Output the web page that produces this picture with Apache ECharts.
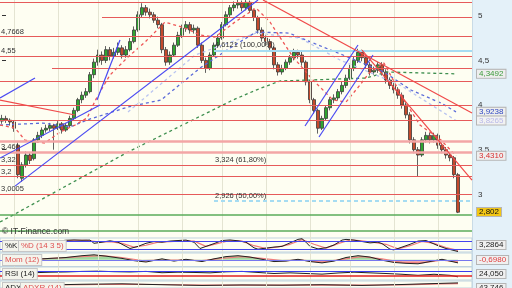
<!DOCTYPE html>
<html><head><meta charset="utf-8">
<script src="https://cdn.jsdelivr.net/npm/echarts@6/dist/echarts.min.js"></script>
<style>
html,body{margin:0;padding:0;}
body{background:linear-gradient(to right,#fefef2 0,#fefef2 472px,#c9dbe6 472px,#c9dbe6 473px,#e4f1f9 473px,#e4f1f9 512px);}
#c{width:512px;height:288px;}
</style>
</head><body><div id="c"></div><script>
// ---------- DATA ----------
const slots = 118;
const categories = Array.from({length: slots}, (_, i) => String(i + 1));
// [open, close, low, high]
const ohlc = [
[3.82,3.85,3.79,3.89],[3.85,3.83,3.80,3.88],[3.83,3.81,3.77,3.85],[3.81,3.74,3.70,3.83],
[3.55,3.22,3.18,3.58],[3.18,3.33,3.14,3.36],[3.33,3.44,3.30,3.48],[3.44,3.38,3.34,3.47],
[3.40,3.61,3.38,3.63],[3.61,3.66,3.58,3.70],[3.66,3.72,3.63,3.75],[3.72,3.74,3.69,3.78],
[3.74,3.77,3.71,3.80],[3.77,3.74,3.50,3.79],[3.74,3.79,3.72,3.82],[3.79,3.72,3.68,3.81],
[3.72,3.77,3.70,3.80],[3.77,3.85,3.75,3.88],[3.85,3.94,3.83,3.97],[3.94,4.06,3.92,4.08],
[4.06,4.11,4.02,4.15],[4.11,4.15,4.08,4.19],[4.15,4.34,4.13,4.37],[4.34,4.48,4.30,4.52],
[4.48,4.56,4.44,4.62],[4.56,4.50,4.45,4.60],[4.50,4.62,4.47,4.66],[4.62,4.55,4.50,4.65],
[4.55,4.59,4.52,4.64],[4.59,4.64,4.56,4.70],[4.64,4.56,4.52,4.67],[4.56,4.62,4.53,4.66],
[4.62,4.71,4.60,4.75],[4.71,4.84,4.69,4.88],[4.84,5.01,4.82,5.05],[5.01,5.09,4.98,5.14],
[5.09,5.04,5.00,5.12],[5.04,5.01,4.97,5.08],[5.01,4.95,4.92,5.04],[4.95,4.90,4.86,4.99],
[4.90,4.62,4.58,4.92],[4.62,4.48,4.44,4.65],[4.48,4.56,4.45,4.60],[4.56,4.67,4.54,4.70],
[4.67,4.78,4.65,4.82],[4.78,4.86,4.75,4.90],[4.86,4.90,4.82,4.94],[4.90,4.84,4.80,4.93],
[4.84,4.86,4.80,4.90],[4.86,4.67,4.64,4.88],[4.67,4.50,4.47,4.70],[4.50,4.41,4.36,4.53],
[4.41,4.56,4.39,4.59],[4.56,4.67,4.54,4.70],[4.67,4.75,4.64,4.79],[4.75,4.90,4.73,4.93],
[4.90,5.01,4.88,5.05],[5.01,5.09,4.98,5.12],[5.09,5.12,5.05,5.16],[5.12,5.14,5.08,5.18],
[5.14,5.09,5.05,5.17],[5.09,5.15,5.06,5.19],[5.15,5.06,5.03,5.17],[5.06,4.98,4.94,5.08],
[4.98,4.84,4.80,5.00],[4.84,4.75,4.71,4.87],[4.75,4.71,4.66,4.78],[4.71,4.64,4.60,4.74],
[4.64,4.45,4.40,4.66],[4.45,4.37,4.33,4.48],[4.37,4.41,4.34,4.45],[4.41,4.48,4.39,4.51],
[4.48,4.53,4.45,4.56],[4.53,4.59,4.50,4.63],[4.59,4.56,4.52,4.62],[4.56,4.48,4.44,4.60],
[4.48,4.26,4.22,4.50],[4.26,4.06,4.02,4.28],[4.06,3.94,3.90,4.08],[3.94,3.74,3.68,3.96],
[3.74,3.85,3.72,3.88],[3.85,3.97,3.83,4.00],[3.97,4.06,3.94,4.09],[4.06,4.08,4.02,4.12],
[4.08,4.15,4.05,4.18],[4.15,4.22,4.12,4.26],[4.22,4.30,4.19,4.34],[4.30,4.41,4.28,4.45],
[4.41,4.50,4.38,4.54],[4.50,4.59,4.47,4.63],[4.59,4.53,4.49,4.62],[4.53,4.45,4.41,4.56],
[4.45,4.37,4.33,4.48],[4.37,4.39,4.34,4.43],[4.39,4.45,4.36,4.48],[4.45,4.37,4.33,4.48],
[4.37,4.28,4.24,4.40],[4.28,4.22,4.18,4.31],[4.22,4.17,4.13,4.25],[4.17,4.11,4.07,4.20],
[4.11,4.00,3.96,4.14],[4.00,3.89,3.85,4.03],[3.89,3.61,3.57,3.92],[3.61,3.50,3.46,3.64],
[3.50,3.44,3.20,3.53],[3.44,3.61,3.42,3.64],[3.61,3.66,3.58,3.70],[3.66,3.61,3.57,3.69],
[3.61,3.66,3.58,3.69],[3.66,3.55,3.51,3.68],[3.55,3.50,3.46,3.58],[3.50,3.44,3.40,3.53],
[3.44,3.41,3.37,3.47],[3.41,3.22,3.18,3.43],[3.22,2.80,2.79,3.24]
];
// moving averages [slot index, value]
const maRed = [[-0.5,3.776],[3.25,3.742],[5.75,3.608],[10.75,3.574],[14.5,3.698],[18.25,3.776],[21.25,3.854],[23.75,4.09],[27,4.336],[31.5,4.538],[35.75,4.705],[40.75,4.929],[45.75,4.862],[49.5,4.784],[53.25,4.761],[58.25,4.929],[63.5,5.086],[67,4.929],[72.75,4.538],[77.75,4.28],[82.75,4.056],[86,4.034],[89.5,4.224],[91.75,4.358],[95.5,4.47],[100.5,4.056],[104.5,3.776],[109.75,3.608],[113.5,3.431]];
const maBlue = [[-0.5,3.776],[10.25,3.798],[17,3.754],[21.25,3.832],[31.5,3.978],[39.75,4.056],[49.5,4.414],[57,4.638],[63.5,4.817],[71.75,4.806],[80.25,4.65],[85.25,4.56],[95.5,4.37],[102.25,4.168],[109.75,4.022],[113.5,3.9238]];
const maLight = [[31.5,3.922],[48.25,4.56],[63.5,4.806],[74.5,4.75],[84.5,4.504],[99.5,4.224],[113.5,3.8265]];
const maGreen = [[-0.5,2.69],[2.75,2.768],[31.5,3.474],[57.75,4.056],[63.5,4.168],[69.5,4.269],[91,4.302],[96.25,4.37],[113.5,4.3492]];
// trend lines [[x0,y0],[x1,y1]]
const trendBlue = [
  [[-0.5,4.078],[8.25,4.302]],
  [[-0.5,3.406],[24.5,4.0]],
  [[23.75,4.056],[29.5,4.728]],
  [[3.25,3.092],[64,5.176]],
  [[75.75,3.765],[89,4.672]],
  [[79.25,3.642],[92.75,4.56]]
];
const trendRed = [
  [[-0.5,4.056],[18.25,3.888]],
  [[65.25,5.176],[117.5,3.91]],
  [[90,4.616],[117.5,3.16]]
];
// horizontal levels
const redLevels = [5.155, 4.98, 4.7668, 4.55, 4.41, 4.261, 4.0, 3.832, 3.324, 3.2, 3.0005];
const redLevelStart = [-0.5, 25, -0.5, -0.5, 12.5, -0.5, -0.5, -0.5, -0.5, -0.5, -0.5];
const redLevelText = ['5,155', '', '4,7668', '4,55', '', '', '', '', '3,32', '3,2', '3,0005'];
const pinkLevels = [3.589, 3.47];
const pinkLevelText = ['', '3,461'];
const fibLevels = [4.6121, 3.324, 2.926];
const fibText = ['4,6121 (100,00%)', '3,324 (61,80%)', '2,926 (50,00%)'];
const fibStart = 53;
const greenLevels = [2.768, 2.592];
const monthStarts = [3, 14, 24, 34, 45, 55, 66, 77, 87, 98, 109];
const yTicks = [3, 3.5, 4, 4.5, 5];
const lastValues = [4.3492, 3.9238, 3.8265, 3.4310, 2.802];
const lastValueText = ['4,3492', '3,9238', '3,8265', '3,4310', '2,802'];
// indicators
const stochK = [[0,70],[2,78],[4,65],[6,72],[8,80],[10,74],[12,70],[14,78],[16,84],[18,86],[20,84],[22,85],[23,62],[25,70],[27,80],[29,70],[31,40],[32,25],[34,40],[36,62],[38,75],[40,70],[42,78],[44,82],[46,85],[48,70],[49.5,25],[51,40],[53,60],[55,82],[57,86],[59,80],[61,70],[63,30],[64,20],[66,28],[68,35],[70,40],[72,65],[74,90],[75,95],[76,70],[77,40],[79,22],[81,30],[83,50],[85,85],[86,90],[88,85],[90,75],[92,65],[94,70],[95,60],[97,20],[98,15],[100,35],[102,55],[104,78],[106,82],[107,70],[109,45],[111,25],[112,18],[114,3.2864]];
const stochD = [[0,72],[3,72],[6,70],[9,76],[12,73],[15,78],[18,84],[21,84],[24,72],[27,74],[30,62],[33,35],[36,48],[39,70],[42,74],[45,80],[48,78],[51,40],[54,62],[57,82],[60,78],[63,45],[66,25],[69,36],[72,55],[75,88],[78,55],[81,28],[84,60],[87,86],[90,80],[93,68],[96,55],[99,22],[102,45],[105,75],[108,62],[111,32],[114,12]];
const mom = [[0,0.2],[4,0.3],[8,0.1],[12,0.3],[16,0.5],[20,0.9],[23,1.1],[26,0.8],[30,0.3],[33,-0.2],[36,-0.5],[40,0.2],[43,-0.3],[46,0.1],[50,-0.4],[53,0.2],[56,0.7],[59,0.9],[62,0.6],[65,0.1],[68,-0.4],[71,-0.3],[74,0.1],[77,-0.4],[80,-0.7],[83,-0.3],[86,0.5],[89,0.9],[92,0.6],[95,-0.1],[98,-0.6],[101,-0.8],[104,-0.9],[107,-0.4],[110,0.1],[112,-0.3],[114,-0.698]];
const momSig = [[0,0.1],[5,0.25],[10,0.2],[15,0.4],[20,0.7],[25,0.9],[30,0.5],[35,-0.2],[40,-0.1],[45,-0.1],[50,-0.2],[55,0.3],[60,0.7],[65,0.3],[70,-0.2],[75,-0.1],[80,-0.5],[85,0.1],[90,0.7],[95,0.2],[100,-0.6],[105,-0.7],[110,-0.1],[114,-0.5]];
const rsi = [[0,62],[4,58],[8,56],[12,60],[16,62],[20,66],[24,68],[28,64],[32,62],[36,66],[40,56],[44,60],[48,58],[52,55],[56,63],[60,66],[64,58],[68,50],[72,55],[76,50],[80,45],[84,54],[88,60],[92,55],[96,50],[100,44],[104,36],[108,44],[112,36],[114,24.05]];
const adx = [[0,30],[10,25],[20,32],[30,36],[40,28],[50,22],[60,26],[70,24],[80,28],[90,22],[100,30],[110,40],[114,43.746]];
const adxr = [[0,28],[10,27],[20,28],[30,32],[40,30],[50,25],[60,25],[70,25],[80,26],[90,24],[100,27],[110,35],[114,38]];
const subTagText = ['3,2864', '-0,6980', '24,050', '43,746'];

// ---------- CHART ----------
const FONT = 'Liberation Sans, Arial, sans-serif';
const chart = echarts.init(document.getElementById('c'), null, {renderer: 'canvas'});
const W = 472;
const grids = [
  {left: 0, top: 0, width: W, height: 239},
  {left: 0, top: 238, width: W, height: 14},
  {left: 0, top: 253, width: W, height: 13.5},
  {left: 0, top: 267, width: W, height: 13},
  {left: 0, top: 281, width: W, height: 14}
];
const gridOpts = grids.map((g, i) => Object.assign({}, g, i === 0 ? {show: false} : {
  show: true, backgroundColor: '#fefef2', borderColor: '#bfd3df', borderWidth: 1
}));
const valX = g => ({type: 'value', gridIndex: g, min: -0.5, max: slots - 0.5, show: false});
const xAxes = [
  {type: 'category', gridIndex: 0, data: categories, boundaryGap: true, show: false},
  valX(0), valX(1), valX(2), valX(3), valX(4)
];
const yAxes = [
  {type: 'value', gridIndex: 0, min: 2.5, max: 5.176, position: 'right',
   axisLine: {show: false}, splitLine: {show: false},
   axisTick: {show: true, length: 4, lineStyle: {color: '#333'}, customValues: yTicks},
   axisLabel: {customValues: yTicks, color: '#333', fontSize: 8, fontFamily: FONT, margin: 6,
     formatter: v => String(v).replace('.', ',')}},
  {type: 'value', gridIndex: 1, min: 0, max: 100, show: false},
  {type: 'value', gridIndex: 2, min: -1.5, max: 1.5, show: false},
  {type: 'value', gridIndex: 3, min: 0, max: 100, show: false},
  {type: 'value', gridIndex: 4, min: 0, max: 60, show: false}
];
const hLine = (v, x0, x1, style, label) => [
  {coord: [x0, v], lineStyle: style, label: label || {show: false}},
  {coord: [x1, v]}
];
const vLinesSeries = (xi, yi, ymin, ymax) => ({
  type: 'line', xAxisIndex: xi, yAxisIndex: yi, data: [], z: 0, silent: true,
  markLine: {silent: true, symbol: 'none', animation: false, label: {show: false},
    lineStyle: {color: '#e4e4d2', width: 1, type: 'solid'},
    data: monthStarts.map(m => [{coord: [m, ymin]}, {coord: [m, ymax]}])}
});
const lvlLabel = (txt) => ({show: !!txt, formatter: txt || '', position: 'insideStartTop',
  color: '#333', fontSize: 7.5, fontFamily: FONT, distance: [1, 1], padding: 0});
const X0 = -0.5, X1 = slots - 0.5;
const levelData = [];
redLevels.forEach((v, i) => levelData.push(hLine(v, redLevelStart[i], X1,
  {color: '#e65a5a', width: 1, type: 'solid'}, lvlLabel(redLevelText[i]))));
pinkLevels.forEach((v, i) => levelData.push(hLine(v, X0, X1,
  {color: '#f3a6a6', width: 2.5, type: 'solid'}, lvlLabel(pinkLevelText[i]))));
fibLevels.forEach((v, i) => {
  const st = i === 0 ? {color: '#a6dcf2', width: 2, type: 'solid'} :
             i === 1 ? {color: '#e65a5a', width: 1, type: 'solid'} :
                       {color: '#a6dcf2', width: 2, type: [4, 3]};
  levelData.push(hLine(v, fibStart, X1, st, lvlLabel(fibText[i])));
});
greenLevels.forEach(v => levelData.push(hLine(v, X0, X1, {color: '#5aab5a', width: 1.5, type: 'solid'})));

const lineS = (data, color, width, type, xi, yi, z, extra) => Object.assign({
  type: 'line', xAxisIndex: xi, yAxisIndex: yi, data: data, symbol: 'none', silent: true,
  lineStyle: {color: color, width: width, type: type}, z: z, animation: false
}, extra || {});
const refSeries = (xi, yi, items) => ({type: 'line', xAxisIndex: xi, yAxisIndex: yi, data: [], silent: true, z: 1,
  markLine: {silent: true, symbol: 'none', animation: false, label: {show: false},
    lineStyle: {type: 'solid'}, data: items}});

const series = [
  vLinesSeries(1, 0, 2.5, 5.176),
  refSeries(1, 0, levelData),
  {type: 'candlestick', xAxisIndex: 0, yAxisIndex: 0, data: ohlc, barWidth: 3, z: 3, animation: false,
   itemStyle: {color: '#2fa52f', color0: '#c44a2c', borderColor: '#3a3a3a', borderColor0: '#3a3a3a', borderWidth: 0.8}},
  lineS(maGreen, '#3f8f4f', 1.3, [3, 3], 1, 0, 4),
  lineS(maLight, '#b9c4f0', 1.3, [3, 3], 1, 0, 4),
  lineS(maBlue, '#5a6ad8', 1.3, [3, 3], 1, 0, 4),
  lineS(maRed, '#ee5555', 1.3, [3, 3], 1, 0, 4)
];
trendBlue.forEach(t => series.push(lineS(t, '#4a4af2', 1.2, 'solid', 1, 0, 5)));
trendRed.forEach(t => series.push(lineS(t, '#f04a4a', 1.2, 'solid', 1, 0, 5)));
// stochastic
series.push(vLinesSeries(2, 1, 0, 100));
series.push(refSeries(2, 1, [hLine(80, X0, X1, {color: '#4444ee', width: 1.2, type: 'solid'}),
                             hLine(20, X0, X1, {color: '#4444ee', width: 1.2, type: 'solid'})]));
series.push(lineS(stochD, '#f07a7a', 1.2, 'solid', 2, 1, 3));
series.push(lineS(stochK, '#222', 1, 'solid', 2, 1, 4));
// momentum (fill green above zero, red below: global gradient split at the zero line)
const momTop = grids[2].top, momBot = grids[2].top + grids[2].height;
series.push(vLinesSeries(3, 2, -1.5, 1.5));
series.push(refSeries(3, 2, [hLine(0, X0, X1, {color: '#7777ee', width: 1.2, type: 'solid'})]));
series.push(lineS(mom, '#9fd89f', 0, 'solid', 3, 2, 2, {areaStyle: {origin: 0, opacity: 1,
  color: new echarts.graphic.LinearGradient(0, momTop, 0, momBot, [
    {offset: 0, color: '#9fd89f'}, {offset: 0.5, color: '#9fd89f'},
    {offset: 0.5, color: '#f4a9a9'}, {offset: 1, color: '#f4a9a9'}], true)}}));
series.push(lineS(momSig, '#f08080', 1.2, 'solid', 3, 2, 3));
series.push(lineS(mom, '#222', 1, 'solid', 3, 2, 4));
// RSI
series.push(vLinesSeries(4, 3, 0, 100));
series.push(refSeries(4, 3, [hLine(70, X0, X1, {color: '#3c3cee', width: 1.2, type: 'solid'}),
                             hLine(30, X0, X1, {color: '#e02020', width: 1.6, type: 'solid'})]));
series.push(lineS(rsi, '#222', 1, 'solid', 4, 3, 4));
// ADX
series.push(vLinesSeries(5, 4, 0, 60));
series.push(lineS(adxr, '#f07a7a', 1.2, 'solid', 5, 4, 3));
series.push(lineS(adx, '#222', 1, 'solid', 5, 4, 4));

chart.setOption({
  animation: false,
  backgroundColor: 'transparent',
  grid: gridOpts,
  xAxis: xAxes,
  yAxis: yAxes,
  series: series
});

// value tags on the right, placed through the axis scale
const tagStyles = [
  {fill: '#3a9a3a', bg: '#eeeeee'},
  {fill: '#3048c0', bg: '#eeeeee'},
  {fill: '#b8b8e8', bg: '#f2f2f2'},
  {fill: '#d83030', bg: '#eeeeee'},
  {fill: '#111', bg: '#f2c614'}
];
const graphics = [];
lastValues.forEach((v, i) => {
  const y = chart.convertToPixel({yAxisIndex: 0}, v);
  graphics.push({type: 'text', left: 476, top: y - 5, z: 100,
    style: {text: lastValueText[i], fill: tagStyles[i].fill, font: '8px ' + FONT,
      backgroundColor: tagStyles[i].bg, borderColor: '#b5b5b5', borderWidth: 1, padding: [0, 2]}});
});
const subTagColor = ['#222', '#e04040', '#222', '#222'];
subTagText.forEach((t, i) => graphics.push({type: 'text', left: 476, top: grids[i + 1].top + 2, z: 100,
  style: {text: t, fill: subTagColor[i], font: '8px ' + FONT, backgroundColor: '#f0f0f0', borderColor: '#b5b5b5', borderWidth: 1, padding: [0, 2]}}));
const box = {backgroundColor: '#f4f4ec', borderColor: '#c6c6c6', borderWidth: 1, padding: [1, 2]};
const panelLabels = [
  [2, 240, '%K', '#222'], [18, 240, '%D (14 3 5)', '#e05050'],
  [2, 254, 'Mom (12)', '#e05050'],
  [2, 268, 'RSI (14)', '#222'],
  [2, 282, 'ADX', '#222'], [20, 282, 'ADXR (14)', '#e05050']
];
panelLabels.forEach(p => graphics.push({type: 'text', left: p[0], top: p[1], z: 100,
  style: Object.assign({text: p[2], fill: p[3], font: '8px ' + FONT}, box)}));
graphics.push({type: 'text', left: 2, top: 227, z: 100,
  style: {text: '© IT-Finance.com', fill: '#333', font: '8.5px ' + FONT}});
chart.setOption({graphic: graphics});
</script></body></html>
